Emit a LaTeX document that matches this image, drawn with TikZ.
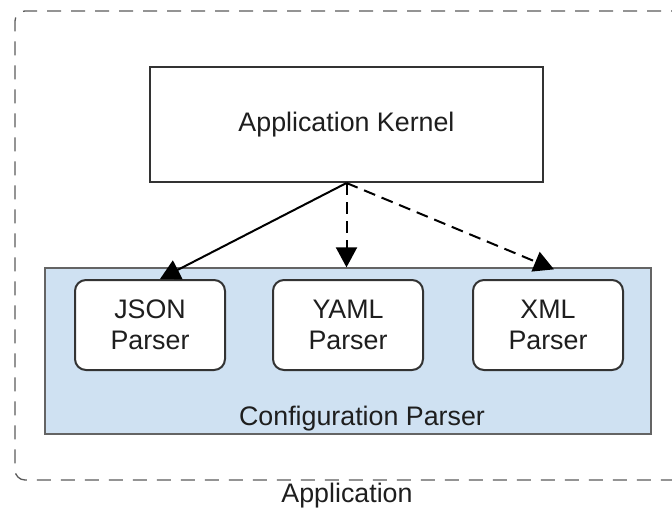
\documentclass[tikz,border=0pt]{standalone}
\usepackage{fontspec}
\setmainfont{Liberation Sans}
\usetikzlibrary{positioning, arrows.meta}
\definecolor{dark_gray}{RGB}{51,51,51}
\definecolor{dash_gray}{RGB}{90,90,90}
\definecolor{frame_gray}{RGB}{100,100,100}
\definecolor{light_blue}{RGB}{207,225,242}
\definecolor{text_black}{RGB}{30,30,30}
\tikzstyle{block} = [
    rectangle, align=center, line width=2pt,
    draw=dark_gray, fill=white, text=text_black,
    font=\fontsize{26.8}{31}\selectfont
]
\tikzstyle{parser} = [block, rounded corners=11pt, minimum width=150pt, minimum height=90pt]
\tikzstyle{label} = [font=\fontsize{26.8}{31}\selectfont, text=text_black]
\tikzstyle{arrow} = [line width=2pt, -{Triangle[length=20pt,width=21pt]}, black]
\tikzstyle{dasharrow} = [arrow, dash pattern=on 12pt off 7pt]

\begin{document}
\begin{tikzpicture}[x=1pt, y=-1pt]
    \useasboundingbox (0,0) rectangle (672,511);

    % application outline
    \node[rectangle, rounded corners=10pt, draw=dash_gray, line width=1.3pt, dash pattern=on 14pt off 10pt, minimum width=680pt, minimum height=469pt] (app_outline) at (355,245.5) {};
    \node[label] (app_text) at (347,496) {Application};

    % kernel
    \node[block, minimum width=393pt, minimum height=115pt] (kernel_box) at (346.5,124.5) {Application Kernel};

    % configuration parser nodes
    \node[rectangle, draw=frame_gray, line width=1.3pt, fill=light_blue, minimum width=606pt, minimum height=166pt] (config_parser) at (348,351) {};
    \node[label] (config_text) at (362,419) {Configuration Parser};
    \node[parser] (json_parser) at (150,325) {JSON\\Parser};
    \node[parser] (yaml_parser) [right=46pt of json_parser] {YAML\\Parser};
    \node[parser] (xml_parser) [right=48pt of yaml_parser] {XML\\Parser};

    % arrows from kernel
    \coordinate (anchor1) at ([xshift=10pt]json_parser.north);
    \coordinate (anchor2) at (kernel_box.south |- config_parser.north);
    \coordinate (anchor3) at ([xshift=6pt, yshift=-2pt]xml_parser.north |- config_parser.north);
    \draw[arrow] (kernel_box.south) to (anchor1);
    \draw[dasharrow] (kernel_box.south) to (anchor2);
    \draw[dasharrow] (kernel_box.south) to (anchor3);
\end{tikzpicture}
\end{document}
